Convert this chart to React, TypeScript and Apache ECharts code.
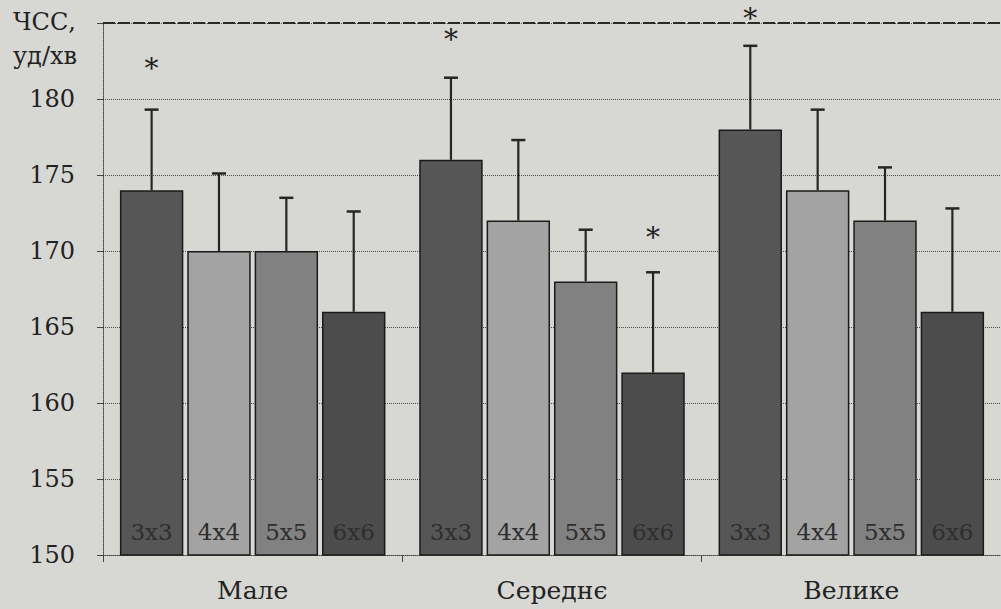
import React, { useEffect, useRef } from "react";
import * as echarts from "echarts";

const categories = ["Мале", "Середнє", "Велике"];
const seriesNames = ["3x3", "4x4", "5x5", "6x6"];
const values3x3 = [174, 176, 178];
const values4x4 = [170, 172, 174];
const values5x5 = [170, 168, 172];
const values6x6 = [166, 162, 166];
const err3x3 = [5.3, 5.4, 5.5];
const err4x4 = [5.1, 5.3, 5.3];
const err5x5 = [3.5, 3.4, 3.5];
const err6x6 = [6.6, 6.6, 6.8];
const stars3x3: (number | null)[] = [182.0, 183.9, 185.3];
const stars4x4: (number | null)[] = [null, null, null];
const stars5x5: (number | null)[] = [null, null, null];
const stars6x6: (number | null)[] = [null, 170.9, null];
const yTicks = [150, 155, 160, 165, 170, 175, 180];

const allValues = [values3x3, values4x4, values5x5, values6x6];
const allErr = [err3x3, err4x4, err5x5, err6x6];
const allStars = [stars3x3, stars4x4, stars5x5, stars6x6];
const barColors = ["#565656", "#a3a3a3", "#818181", "#4c4c4c"];

const FONT = "DejaVu Serif";
const CAT_GAP = 0.113;
const BAR_GAP = 0.0625;

export default function App() {
  const ref = useRef<HTMLDivElement>(null);
  useEffect(() => {
    if (!ref.current) return;
    const chart = echarts.init(ref.current, null, { renderer: "svg" });
    const barSeries = seriesNames.map((name, i) => ({
      type: "bar",
      name,
      data: allValues[i],
      barCategoryGap: (CAT_GAP * 100).toFixed(1) + "%",
      barGap: (BAR_GAP * 100).toFixed(2) + "%",
      itemStyle: { color: barColors[i], borderColor: "#1a1a1a", borderWidth: 1.5 },
      z: 2,
      ...(i === 0
        ? {
            markLine: {
              silent: true,
              symbol: "none",
              label: { show: false },
              lineStyle: { type: [12, 3], color: "#2a2a2a", width: 2 },
              data: [{ yAxis: 185 }],
            },
          }
        : {}),
    }));
    const errSeries = seriesNames.map((name, i) => ({
      type: "custom",
      name: name + "-err",
      z: 5,
      data: categories.map((_, c) => [
        c,
        allValues[i][c],
        allErr[i][c],
        allStars[i][c] == null ? NaN : allStars[i][c],
      ]),
      renderItem: (params: any, api: any) => {
        const cat = api.value(0);
        const val = api.value(1);
        const err = api.value(2);
        const star = api.value(3);
        const center = api.coord([cat, val]);
        const bw = api.size([1, 0])[0];
        const usable = bw * (1 - CAT_GAP);
        const w = usable / (4 + 3 * BAR_GAP);
        const x = center[0] - usable / 2 + w / 2 + i * w * (1 + BAR_GAP);
        const yTop = api.coord([cat, val + err])[1];
        const yBase = api.coord([cat, 150])[1];
        const children: any[] = [
          {
            type: "line",
            shape: { x1: x, y1: center[1], x2: x, y2: yTop },
            style: { stroke: "#262626", lineWidth: 2.2 },
          },
          {
            type: "line",
            shape: { x1: x - 7, y1: yTop, x2: x + 7, y2: yTop },
            style: { stroke: "#262626", lineWidth: 2.5 },
          },
          {
            type: "text",
            style: {
              x,
              y: yBase - 12,
              text: name,
              fill: "#2e2e2e",
              fontFamily: FONT,
              fontSize: 23,
              align: "center",
              verticalAlign: "bottom",
            },
          },
        ];
        if (!isNaN(star)) {
          const ys = api.coord([cat, star])[1];
          children.push({
            type: "text",
            style: {
              x,
              y: ys,
              text: "*",
              fill: "#222",
              fontFamily: FONT,
              fontSize: 28,
              align: "center",
              verticalAlign: "middle",
            },
          });
        }
        return { type: "group", children };
      },
    }));
    chart.setOption({
      animation: false,
      backgroundColor: "#d7d7d4",
      textStyle: { fontFamily: FONT },
      grid: { left: 103, top: 23, width: 907, height: 532 },
      xAxis: {
        type: "category",
        data: categories,
        axisLine: { lineStyle: { color: "#444", width: 1, type: "dotted" } },
        axisTick: { show: true, length: 7, lineStyle: { color: "#444" } },
        axisLabel: { color: "#222", fontFamily: FONT, fontSize: 25, margin: 23 },
        splitLine: { show: false },
      },
      yAxis: {
        type: "value",
        min: 150,
        max: 185,
        interval: 5,
        axisLine: { show: true, lineStyle: { color: "#444", width: 1, type: "dotted" } },
        axisTick: { show: true, length: 6, lineStyle: { color: "#444" } },
        axisLabel: {
          color: "#222",
          fontFamily: FONT,
          fontSize: 24,
          margin: 28,
          formatter: (v: number) => (yTicks.indexOf(v) >= 0 ? String(v) : ""),
        },
        splitLine: { show: true, lineStyle: { color: "#4a4a4a", width: 1, type: "dotted" } },
      },
      graphic: [
        {
          type: "text",
          left: 13,
          top: 10,
          style: { text: "ЧСС,", fontFamily: FONT, fontSize: 24, fill: "#222" },
        },
        {
          type: "text",
          left: 13,
          top: 44,
          style: { text: "уд/хв", fontFamily: FONT, fontSize: 24, fill: "#222" },
        },
      ],
      series: [...barSeries, ...errSeries],
    });
    return () => chart.dispose();
  }, []);
  return (
    <div
      ref={ref}
      style={{ position: "absolute", left: 0, top: 0, width: 1001, height: 609, background: "#d7d7d4" }}
    />
  );
}
